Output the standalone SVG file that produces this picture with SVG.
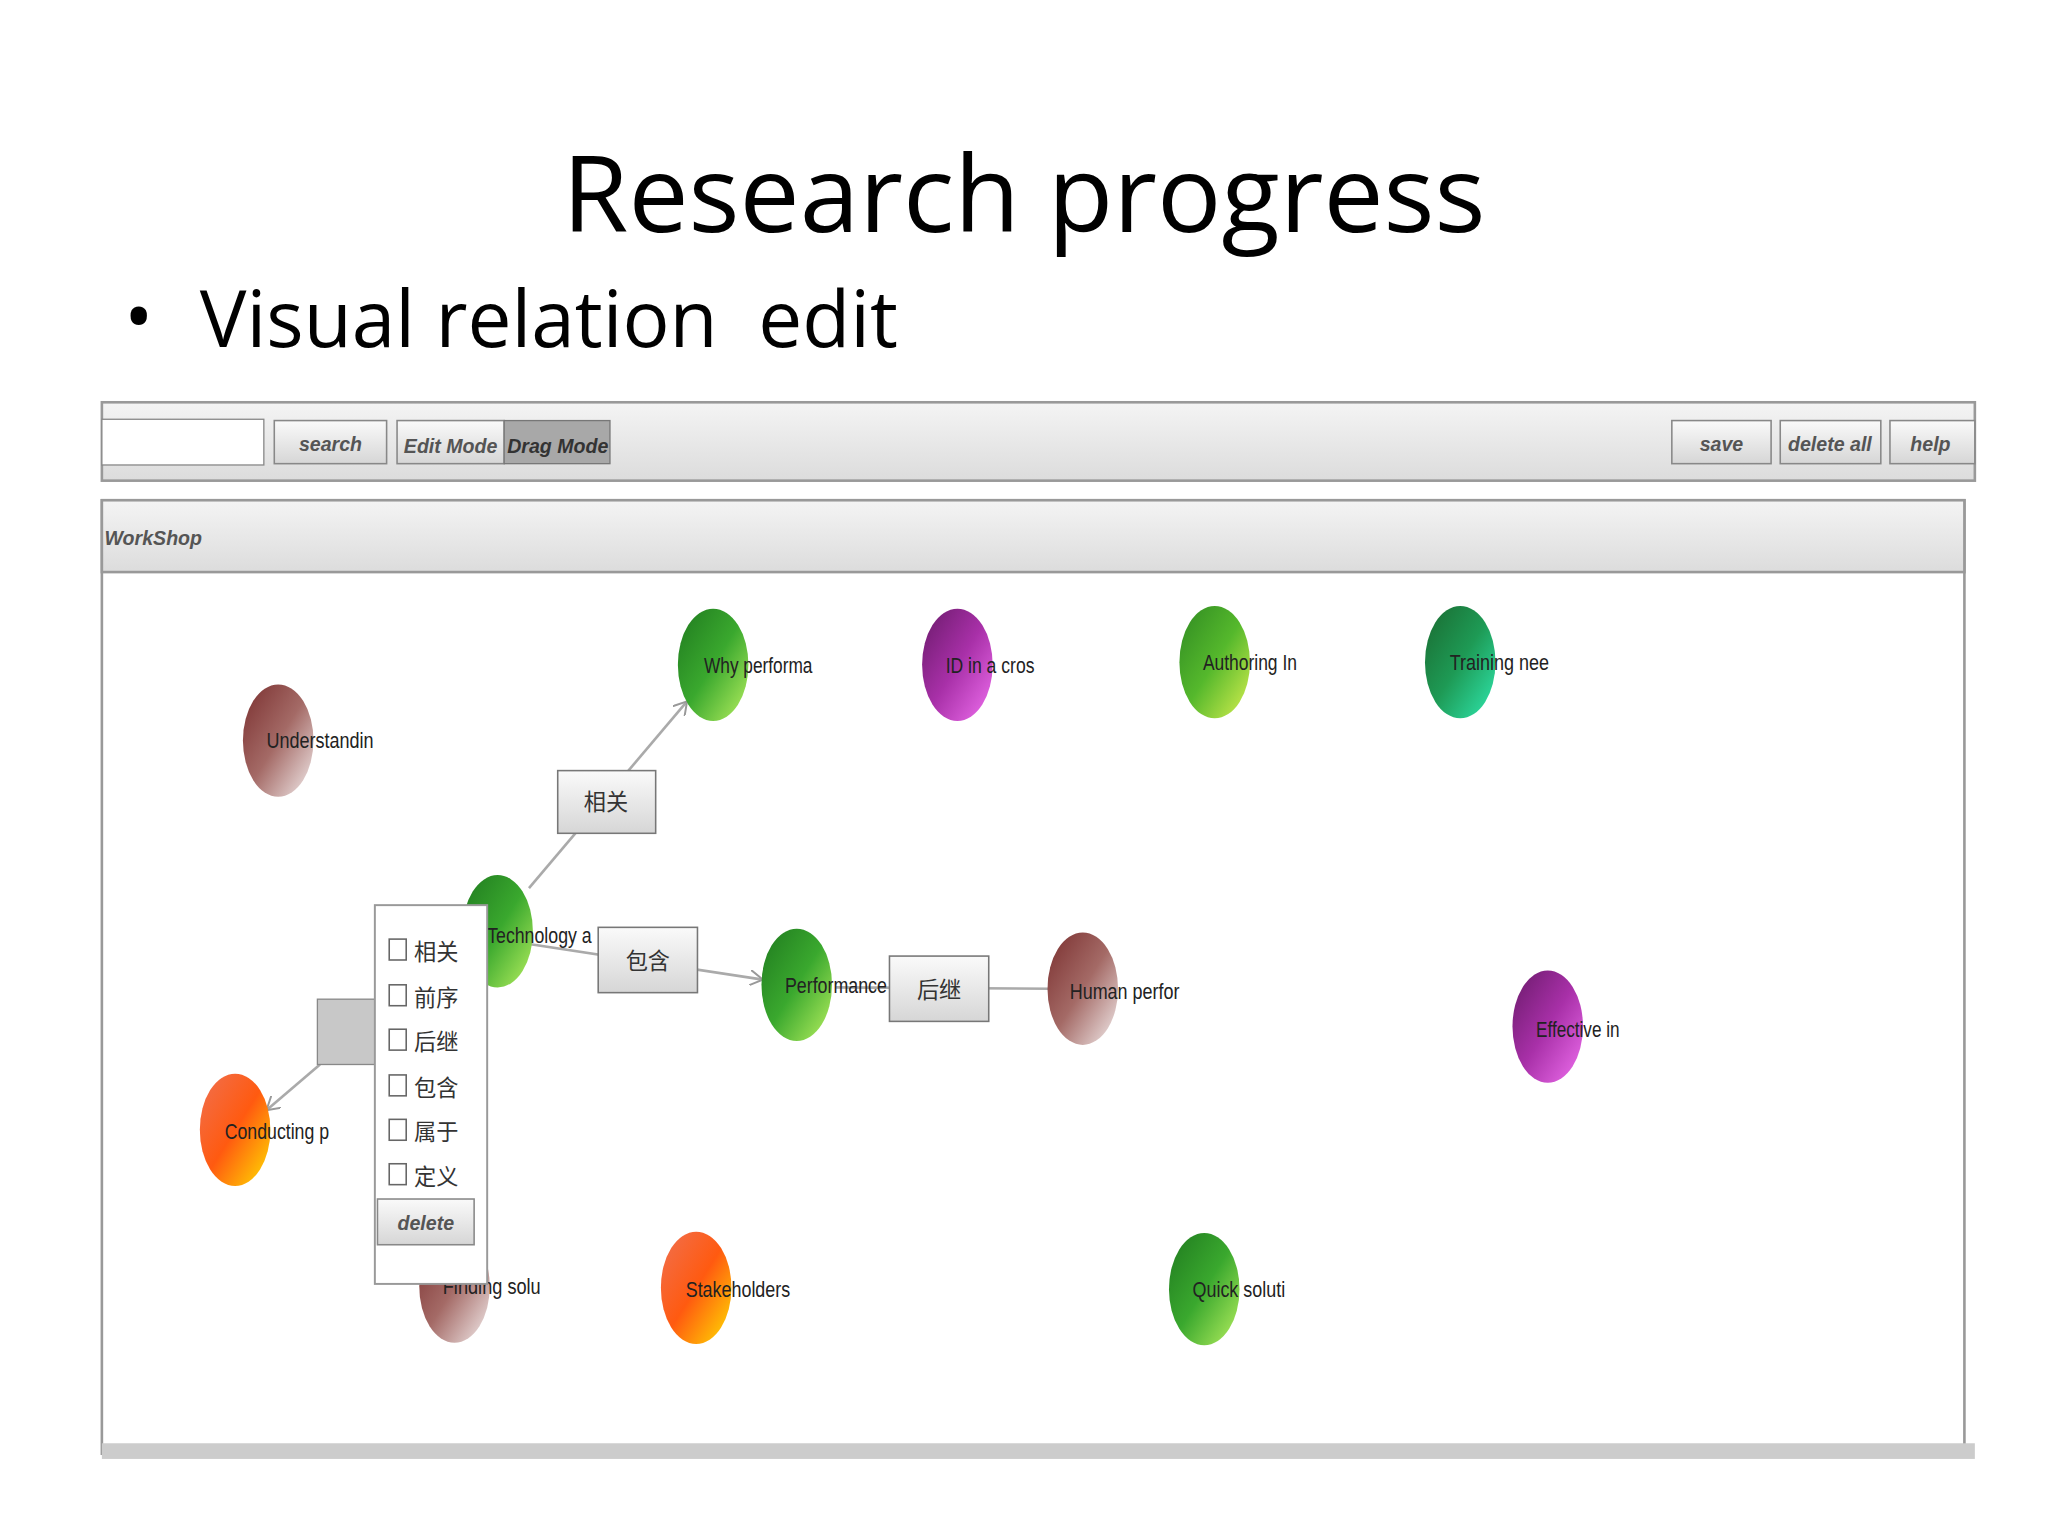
<svg xmlns="http://www.w3.org/2000/svg" width="2048" height="1536" viewBox="0 0 2048 1536">
<defs>
<linearGradient id="btn" x1="0" y1="0" x2="0" y2="1"><stop offset="0" stop-color="#fafafa"/><stop offset="1" stop-color="#d6d6d6"/></linearGradient>
<linearGradient id="bar" x1="0" y1="0" x2="0" y2="1"><stop offset="0" stop-color="#f4f4f4"/><stop offset="1" stop-color="#dcdcdc"/></linearGradient>
<linearGradient id="gGreen" x1="0" y1="0" x2="1" y2="1"><stop offset="0" stop-color="#1f7a1f"/><stop offset="0.5" stop-color="#3aa82e"/><stop offset="1" stop-color="#b8f060"/></linearGradient>
<linearGradient id="gLime" x1="0" y1="0" x2="1" y2="1"><stop offset="0" stop-color="#2f8a22"/><stop offset="0.5" stop-color="#55b82c"/><stop offset="1" stop-color="#d8f050"/></linearGradient>
<linearGradient id="gTeal" x1="0" y1="0" x2="1" y2="1"><stop offset="0" stop-color="#1a6a30"/><stop offset="0.5" stop-color="#1e9a55"/><stop offset="1" stop-color="#30e8b0"/></linearGradient>
<linearGradient id="gBrown" x1="0" y1="0" x2="1" y2="1"><stop offset="0" stop-color="#7a2f2f"/><stop offset="0.5" stop-color="#a46a66"/><stop offset="1" stop-color="#f4eeee"/></linearGradient>
<linearGradient id="gPurple" x1="0" y1="0" x2="1" y2="1"><stop offset="0" stop-color="#6a1a6a"/><stop offset="0.5" stop-color="#a830a8"/><stop offset="1" stop-color="#f070f0"/></linearGradient>
<linearGradient id="gOrange" x1="0" y1="0" x2="1" y2="1"><stop offset="0" stop-color="#f07050"/><stop offset="0.5" stop-color="#ff5a10"/><stop offset="1" stop-color="#ffe000"/></linearGradient>
<marker id="arr" markerWidth="12" markerHeight="12" refX="10" refY="6" orient="auto" markerUnits="userSpaceOnUse"><path d="M0,0 L10,6 L0,12" fill="none" stroke="#999" stroke-width="1.5"/></marker>
<style>
.t{font-family:"Open Sans","Liberation Sans",sans-serif;fill:#000}
.b{fill:url(#btn);stroke:#888;stroke-width:1.2}
.bt{font-family:"Liberation Sans",Arial,sans-serif;font-style:italic;font-weight:bold;font-size:15px;fill:#555;text-anchor:middle}
.nl{font-family:"Liberation Sans",Arial,sans-serif;font-size:17px;fill:#222}
.lb{fill:url(#btn);stroke:#777;stroke-width:1.2}
.cj{font-family:"Noto Sans CJK SC",sans-serif;font-size:17px;fill:#333}
.e{stroke:#aaa;stroke-width:2;fill:none}
</style>
</defs>
<rect width="2048" height="1536" fill="#fff"/>
<g transform="scale(1.30612)">
<text class="t" x="784" y="178" font-size="82" text-anchor="middle">Research progress</text>
<text class="t" x="95" y="264" font-size="60">•</text>
<text class="t" x="153" y="266" font-size="60" xml:space="preserve">Visual relation  edit</text>
<g id="toolbar">
<rect x="78" y="308" width="1434" height="60" fill="url(#bar)" stroke="#999" stroke-width="2"/>
<rect x="78" y="321" width="124" height="35" fill="#fff" stroke="#888"/>
<rect class="b" x="210" y="322" width="86" height="33"/><text class="bt" x="253" y="345">search</text>
<rect class="b" x="304" y="322" width="82" height="33"/><text class="bt" x="345" y="347" font-size="14">Edit Mode</text>
<rect x="386" y="322" width="81" height="33" fill="#a8a8a8" stroke="#777"/><text class="bt" x="427" y="347" font-size="14" style="fill:#333">Drag Mode</text>
<rect class="b" x="1280" y="322" width="76" height="33"/><text class="bt" x="1318" y="345">save</text>
<rect class="b" x="1363" y="322" width="77" height="33"/><text class="bt" x="1401" y="345" font-size="14">delete all</text>
<rect class="b" x="1447" y="322" width="65" height="33"/><text class="bt" x="1478" y="345">help</text>
</g>
<g id="panel">
<rect x="78" y="383" width="1426" height="730" fill="#fff" stroke="#999" stroke-width="2"/>
<rect x="78" y="383" width="1426" height="55" fill="url(#bar)" stroke="#999" stroke-width="2"/>
<text class="bt" x="80" y="417" font-size="20" style="text-anchor:start">WorkShop</text>
<rect x="78" y="1105" width="1434" height="12" fill="#ccc"/>
</g>
<g id="connectors">
<line class="e" x1="405" y1="680" x2="526" y2="537" marker-end="url(#arr)"/>
<line class="e" x1="400" y1="722" x2="584" y2="750" marker-end="url(#arr)"/>
<line class="e" x1="640" y1="756" x2="805" y2="757"/>
<line class="e" x1="350" y1="740" x2="270" y2="800"/>
<line class="e" x1="245" y1="815" x2="204" y2="850" marker-end="url(#arr)"/>
</g>
<g id="n-understandin"><ellipse cx="213" cy="567" rx="27" ry="43" fill="url(#gBrown)"/><text class="nl" x="204" y="573" textLength="82" lengthAdjust="spacingAndGlyphs">Understandin</text></g>
<g id="n-why"><ellipse cx="546" cy="509" rx="27" ry="43" fill="url(#gGreen)"/><text class="nl" x="539" y="515" textLength="83" lengthAdjust="spacingAndGlyphs">Why performa</text></g>
<g id="n-id"><ellipse cx="733" cy="509" rx="27" ry="43" fill="url(#gPurple)"/><text class="nl" x="724" y="515" textLength="68" lengthAdjust="spacingAndGlyphs">ID in a cros</text></g>
<g id="n-authoring"><ellipse cx="930" cy="507" rx="27" ry="43" fill="url(#gLime)"/><text class="nl" x="921" y="513" textLength="72" lengthAdjust="spacingAndGlyphs">Authoring In</text></g>
<g id="n-training"><ellipse cx="1118" cy="507" rx="27" ry="43" fill="url(#gTeal)"/><text class="nl" x="1110" y="513" textLength="76" lengthAdjust="spacingAndGlyphs">Training nee</text></g>
<g id="n-tech"><ellipse cx="381" cy="713" rx="27" ry="43" fill="url(#gGreen)"/><text class="nl" x="373" y="722" textLength="80" lengthAdjust="spacingAndGlyphs">Technology a</text></g>
<g id="n-perf"><ellipse cx="610" cy="754" rx="27" ry="43" fill="url(#gGreen)"/><text class="nl" x="601" y="760" textLength="78" lengthAdjust="spacingAndGlyphs">Performance</text></g>
<g id="n-human"><ellipse cx="829" cy="757" rx="27" ry="43" fill="url(#gBrown)"/><text class="nl" x="819" y="765" textLength="84" lengthAdjust="spacingAndGlyphs">Human perfor</text></g>
<g id="n-effective"><ellipse cx="1185" cy="786" rx="27" ry="43" fill="url(#gPurple)"/><text class="nl" x="1176" y="794" textLength="64" lengthAdjust="spacingAndGlyphs">Effective in</text></g>
<g id="n-conducting"><ellipse cx="180" cy="865" rx="27" ry="43" fill="url(#gOrange)"/><text class="nl" x="172" y="872" textLength="80" lengthAdjust="spacingAndGlyphs">Conducting p</text></g>
<g id="n-finding"><ellipse cx="348" cy="985" rx="27" ry="43" fill="url(#gBrown)"/><text class="nl" x="339" y="991" textLength="75" lengthAdjust="spacingAndGlyphs">Finding solu</text></g>
<g id="n-stake"><ellipse cx="533" cy="986" rx="27" ry="43" fill="url(#gOrange)"/><text class="nl" x="525" y="993" textLength="80" lengthAdjust="spacingAndGlyphs">Stakeholders</text></g>
<g id="n-quick"><ellipse cx="922" cy="987" rx="27" ry="43" fill="url(#gGreen)"/><text class="nl" x="913" y="993" textLength="71" lengthAdjust="spacingAndGlyphs">Quick soluti</text></g>
<g id="labels">
<rect class="lb" x="427" y="590" width="75" height="48"/><text class="cj" x="464" y="620" text-anchor="middle">相关</text>
<rect class="lb" x="458" y="710" width="76" height="50"/><text class="cj" x="496" y="742" text-anchor="middle">包含</text>
<rect class="lb" x="681" y="732" width="76" height="50"/><text class="cj" x="719" y="764" text-anchor="middle">后继</text>
<rect x="243" y="765" width="50" height="50" fill="#c8c8c8" stroke="#888"/>
</g>
<g id="popup">
<rect x="287" y="693" width="86" height="290" fill="#fff" stroke="#999" stroke-width="1.5"/>
<g fill="#fff" stroke="#666" stroke-width="1.2">
<rect x="298" y="719" width="13" height="16"/><rect x="298" y="754" width="13" height="16"/><rect x="298" y="788" width="13" height="16"/>
<rect x="298" y="823" width="13" height="16"/><rect x="298" y="857" width="13" height="16"/><rect x="298" y="891" width="13" height="16"/>
</g>
<text class="cj" x="317" y="735">相关</text>
<text class="cj" x="317" y="770">前序</text>
<text class="cj" x="317" y="804">后继</text>
<text class="cj" x="317" y="839">包含</text>
<text class="cj" x="317" y="873">属于</text>
<text class="cj" x="317" y="907">定义</text>
<rect class="b" x="289" y="918" width="74" height="35"/><text class="bt" x="326" y="942" font-size="16">delete</text>
</g>
</g>
</svg>
